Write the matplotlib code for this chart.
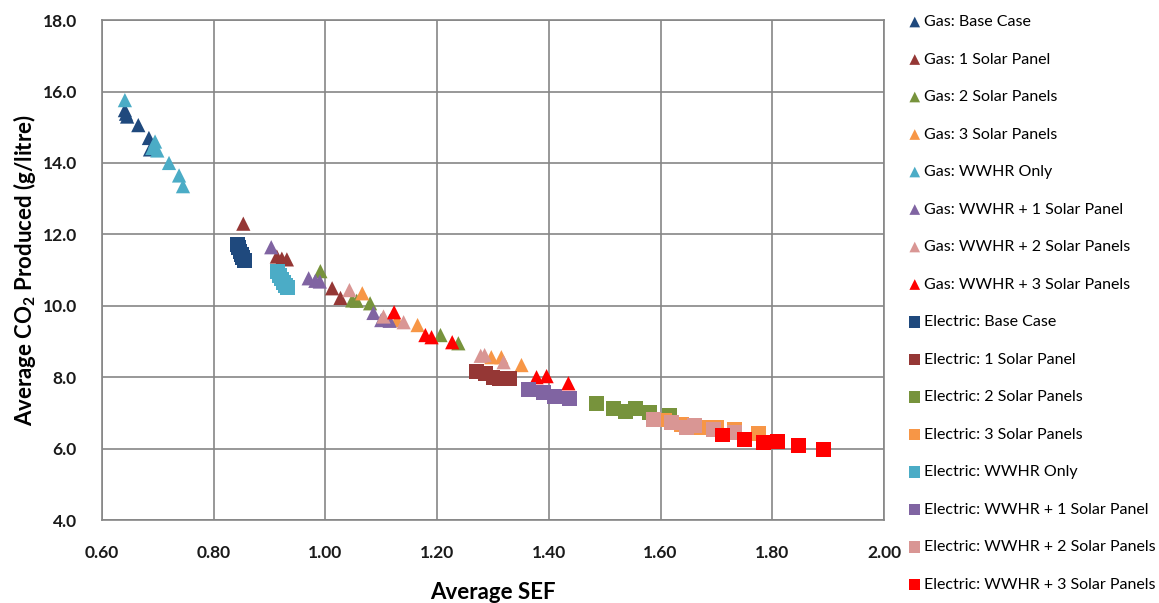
import matplotlib
matplotlib.use("Agg")
import matplotlib.pyplot as plt

plt.rcParams['font.family'] = ['Lato', 'DejaVu Sans']
plt.rcParams['mathtext.fontset'] = 'custom'
plt.rcParams['mathtext.rm'] = 'Lato'
plt.rcParams['mathtext.bf'] = 'Lato:bold'

# -------------------------------------------------------------
# Data (x = Average SEF, y = Average CO2 g/litre)
# -------------------------------------------------------------
gas_base_x = [0.641, 0.645, 0.643, 0.665, 0.684, 0.686]
gas_base_y = [15.48, 15.30, 15.38, 15.06, 14.70, 14.38]

gas_1sp_x = [0.853, 0.913, 0.922, 0.931, 1.012, 1.027]
gas_1sp_y = [12.30, 11.38, 11.32, 11.30, 10.49, 10.22]

gas_2sp_x = [0.991, 1.048, 1.056, 1.080, 1.206, 1.238]
gas_2sp_y = [10.97, 10.15, 10.14, 10.07, 9.18, 8.95]

gas_3sp_x = [1.066, 1.128, 1.165, 1.297, 1.315, 1.351]
gas_3sp_y = [10.35, 9.60, 9.46, 8.56, 8.56, 8.34]

gas_wwhr_x = [0.641, 0.690, 0.695, 0.699, 0.720, 0.738, 0.745]
gas_wwhr_y = [15.76, 14.42, 14.60, 14.35, 14.00, 13.65, 13.35]

gas_w1_x = [0.903, 0.970, 0.982, 0.990, 1.086, 1.100, 1.115]
gas_w1_y = [11.64, 10.77, 10.70, 10.68, 9.80, 9.60, 9.58]

gas_w2_x = [1.043, 1.104, 1.140, 1.278, 1.285, 1.319]
gas_w2_y = [10.44, 9.70, 9.54, 8.60, 8.62, 8.42]

gas_w3_x = [1.123, 1.179, 1.190, 1.227, 1.378, 1.396, 1.435]
gas_w3_y = [9.82, 9.18, 9.12, 8.98, 8.00, 8.03, 7.83]

el_base_x = [0.842, 0.845, 0.847, 0.850, 0.852, 0.855]
el_base_y = [11.72, 11.62, 11.52, 11.44, 11.36, 11.28]

el_1sp_x = [1.270, 1.287, 1.300, 1.312, 1.330]
el_1sp_y = [8.17, 8.10, 8.00, 7.97, 7.96]

el_2sp_x = [1.485, 1.516, 1.537, 1.555, 1.580, 1.616]
el_2sp_y = [7.27, 7.13, 7.03, 7.12, 7.00, 6.94]

el_3sp_x = [1.607, 1.638, 1.673, 1.700, 1.733, 1.775]
el_3sp_y = [6.80, 6.67, 6.60, 6.60, 6.55, 6.43]

el_wwhr_x = [0.915, 0.918, 0.922, 0.925, 0.928, 0.932]
el_wwhr_y = [10.95, 10.85, 10.75, 10.65, 10.57, 10.50]

el_w1_x = [1.363, 1.390, 1.410, 1.437]
el_w1_y = [7.65, 7.57, 7.45, 7.40]

el_w2_x = [1.587, 1.620, 1.647, 1.661, 1.695, 1.733]
el_w2_y = [6.82, 6.72, 6.60, 6.65, 6.53, 6.45]

el_w3_x = [1.711, 1.750, 1.785, 1.810, 1.847, 1.892]
el_w3_y = [6.38, 6.26, 6.18, 6.20, 6.08, 5.97]

x_ticks = [0.60, 0.80, 1.00, 1.20, 1.40, 1.60, 1.80, 2.00]
y_ticks = [4.0, 6.0, 8.0, 10.0, 12.0, 14.0, 16.0, 18.0]

# -------------------------------------------------------------
# Series list: (label, x, y, marker, colour)
# -------------------------------------------------------------
navy, dred, green, orange = "#1F497D", "#953735", "#77933C", "#F79646"
aqua, purple, pink, red = "#4BACC6", "#8064A2", "#D99694", "#FF0000"

series = [
    ("Gas: Base Case", gas_base_x, gas_base_y, "^", navy),
    ("Gas: 1 Solar Panel", gas_1sp_x, gas_1sp_y, "^", dred),
    ("Gas: 2 Solar Panels", gas_2sp_x, gas_2sp_y, "^", green),
    ("Gas: 3 Solar Panels", gas_3sp_x, gas_3sp_y, "^", orange),
    ("Gas: WWHR Only", gas_wwhr_x, gas_wwhr_y, "^", aqua),
    ("Gas: WWHR + 1 Solar Panel", gas_w1_x, gas_w1_y, "^", purple),
    ("Gas: WWHR + 2 Solar Panels", gas_w2_x, gas_w2_y, "^", pink),
    ("Gas: WWHR + 3 Solar Panels", gas_w3_x, gas_w3_y, "^", red),
    ("Electric: Base Case", el_base_x, el_base_y, "s", navy),
    ("Electric: 1 Solar Panel", el_1sp_x, el_1sp_y, "s", dred),
    ("Electric: 2 Solar Panels", el_2sp_x, el_2sp_y, "s", green),
    ("Electric: 3 Solar Panels", el_3sp_x, el_3sp_y, "s", orange),
    ("Electric: WWHR Only", el_wwhr_x, el_wwhr_y, "s", aqua),
    ("Electric: WWHR + 1 Solar Panel", el_w1_x, el_w1_y, "s", purple),
    ("Electric: WWHR + 2 Solar Panels", el_w2_x, el_w2_y, "s", pink),
    ("Electric: WWHR + 3 Solar Panels", el_w3_x, el_w3_y, "s", red),
]

fig = plt.figure(figsize=(11.59, 6.03), dpi=100)
ax = fig.add_axes([0.088, 0.1376, 0.6747, 0.829])

for label, xs, ys, mk, col in series:
    size = 105 if mk == "^" else 115
    ax.scatter(xs, ys, marker=mk, s=size, color=col, label=label,
               edgecolors="none", zorder=3)

ax.set_xlim(0.6, 2.0)
ax.set_ylim(4.0, 18.0)
ax.set_xticks(x_ticks)
ax.set_yticks(y_ticks)
ax.set_xticklabels([f"{v:.2f}" for v in x_ticks])
ax.set_yticklabels([f"{v:.1f}" for v in y_ticks])
ax.tick_params(axis="y", length=0, labelsize=12.5, labelcolor="#1a1a1a", pad=18)
ax.tick_params(axis="x", length=0, labelsize=12.5, labelcolor="#1a1a1a", pad=18)
for lab in ax.get_xticklabels() + ax.get_yticklabels():
    lab.set_fontweight("bold")

ax.grid(True, color="#868686", linewidth=1.2)
ax.set_axisbelow(True)
for sp in ax.spines.values():
    sp.set_color("#868686")
    sp.set_linewidth(1.2)

ax.set_xlabel("Average SEF", fontsize=16, fontweight="bold", labelpad=15)
ax.set_ylabel(r"Average CO$_\mathbf{2}$ Produced (g/litre)", fontsize=16,
              fontweight="bold", labelpad=3)

leg = ax.legend(loc="upper left", bbox_to_anchor=(1.022, 1.023), frameon=False,
                fontsize=11.5, handletextpad=0.1, labelspacing=1.46,
                handlelength=0.9, borderaxespad=0, scatterpoints=1,
                markerscale=0.75)

fig.savefig("out.png", dpi=100)
